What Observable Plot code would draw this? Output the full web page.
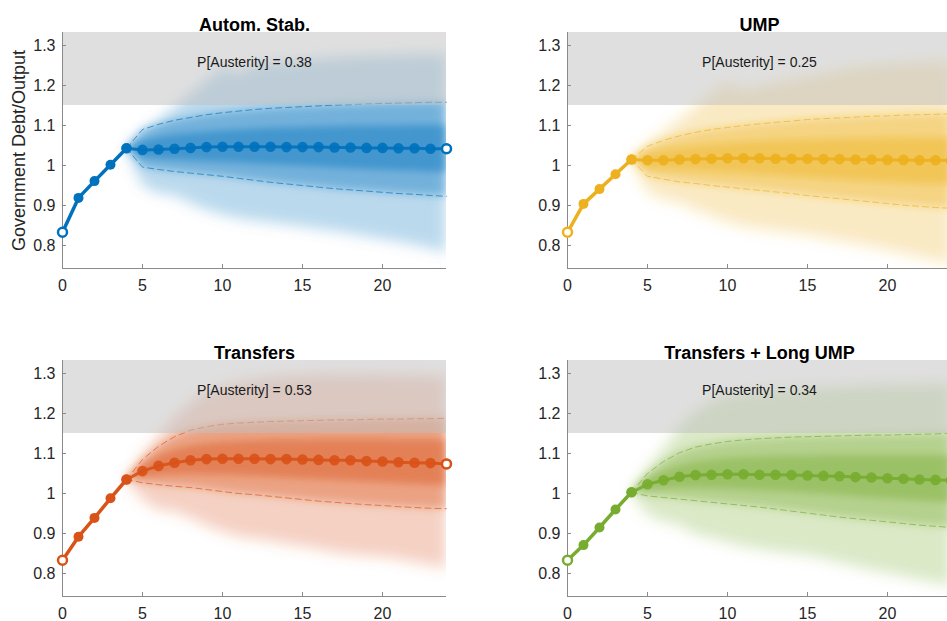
<!DOCTYPE html>
<html>
<head>
<meta charset="utf-8">
<script src="https://cdn.jsdelivr.net/npm/d3@7"></script>
<script src="https://cdn.jsdelivr.net/npm/@observablehq/plot@0.6"></script>
<style>
  html, body { margin: 0; padding: 0; background: #fff; }
  #chart { position: relative; width: 947px; height: 621px; overflow: hidden; background: #fff;
           font-family: "Liberation Sans", Arial, Helvetica, sans-serif; }
  #chart svg { position: absolute; overflow: visible; }
</style>
</head>
<body>
<div id="chart"></div>
<script>
// Horizon (years) and the forecast part of it
const periods    = [0, 1, 2, 3, 4, 5, 6, 7, 8, 9, 10, 11, 12, 13, 14, 15, 16, 17, 18, 19, 20, 21, 22, 23, 24];
const fanPeriods = [4, 5, 6, 7, 8, 9, 10, 11, 12, 13, 14, 15, 16, 17, 18, 19, 20, 21, 22, 23, 24];

const xTicks = [0, 5, 10, 15, 20];
const yTicks = [0.8, 0.9, 1, 1.1, 1.2, 1.3];
const xDomain = [0, 24];
const yDomain = [0.7425, 1.3325];
const austerityThreshold = 1.15;

const titles = ["Autom. Stab.", "UMP", "Transfers", "Transfers + Long UMP"];
const pAusterity = [0.38, 0.25, 0.53, 0.34];
const colors = ["#0072BD", "#EDB120", "#D95319", "#77AC30"];

// --- Automatic stabilisers ---
const autoMedian  = [0.833, 0.919, 0.961, 1.002, 1.043, 1.039, 1.040, 1.042, 1.044, 1.046, 1.047, 1.047, 1.047, 1.047, 1.046, 1.046, 1.046, 1.045, 1.045, 1.044, 1.044, 1.043, 1.043, 1.042, 1.042];
const autoOuterHi = [1.043, 1.077, 1.110, 1.144, 1.177, 1.210, 1.244, 1.229, 1.250, 1.255, 1.258, 1.262, 1.265, 1.268, 1.271, 1.273, 1.274, 1.275, 1.276, 1.277, 1.277];
const autoOuterLo = [1.043, 0.950, 0.929, 0.925, 0.905, 0.888, 0.876, 0.867, 0.861, 0.856, 0.851, 0.846, 0.840, 0.835, 0.829, 0.822, 0.815, 0.808, 0.801, 0.792, 0.781];
const autoDashHi  = [1.043, 1.090, 1.103, 1.113, 1.120, 1.127, 1.132, 1.136, 1.140, 1.143, 1.145, 1.147, 1.149, 1.151, 1.152, 1.154, 1.155, 1.156, 1.157, 1.158, 1.158];
const autoDashLo  = [1.043, 0.996, 0.990, 0.985, 0.981, 0.977, 0.973, 0.968, 0.963, 0.958, 0.954, 0.950, 0.946, 0.942, 0.939, 0.936, 0.933, 0.930, 0.928, 0.925, 0.923];
const autoInnerHi = [1.043, 1.062, 1.070, 1.076, 1.080, 1.084, 1.087, 1.089, 1.091, 1.093, 1.094, 1.095, 1.096, 1.097, 1.098, 1.098, 1.099, 1.099, 1.100, 1.100, 1.100];
const autoInnerLo = [1.043, 1.020, 1.016, 1.014, 1.012, 1.010, 1.008, 1.006, 1.004, 1.002, 1.000, 0.998, 0.996, 0.994, 0.992, 0.990, 0.989, 0.987, 0.986, 0.984, 0.983];

// --- Unconventional monetary policy ---
const umpMedian  = [0.833, 0.904, 0.941, 0.978, 1.015, 1.013, 1.013, 1.015, 1.016, 1.017, 1.018, 1.018, 1.018, 1.017, 1.017, 1.017, 1.016, 1.016, 1.015, 1.015, 1.014, 1.014, 1.013, 1.013, 1.012];
const umpOuterHi = [1.015, 1.050, 1.082, 1.113, 1.145, 1.178, 1.208, 1.188, 1.197, 1.205, 1.213, 1.220, 1.228, 1.236, 1.244, 1.248, 1.252, 1.254, 1.256, 1.257, 1.258];
const umpOuterLo = [1.015, 0.933, 0.914, 0.906, 0.888, 0.872, 0.858, 0.846, 0.840, 0.835, 0.830, 0.825, 0.818, 0.811, 0.804, 0.796, 0.788, 0.779, 0.770, 0.761, 0.752];
const umpDashHi  = [1.015, 1.048, 1.063, 1.074, 1.083, 1.090, 1.095, 1.100, 1.104, 1.108, 1.111, 1.115, 1.117, 1.119, 1.121, 1.123, 1.124, 1.126, 1.127, 1.128, 1.129];
const umpDashLo  = [1.015, 0.973, 0.966, 0.959, 0.955, 0.950, 0.946, 0.942, 0.938, 0.934, 0.930, 0.925, 0.921, 0.917, 0.913, 0.909, 0.905, 0.901, 0.898, 0.895, 0.893];
const umpInnerHi = [1.015, 1.030, 1.037, 1.043, 1.048, 1.052, 1.055, 1.058, 1.060, 1.062, 1.063, 1.064, 1.065, 1.066, 1.067, 1.067, 1.068, 1.068, 1.069, 1.069, 1.069];
const umpInnerLo = [1.015, 0.993, 0.990, 0.988, 0.986, 0.984, 0.982, 0.980, 0.977, 0.975, 0.972, 0.970, 0.967, 0.965, 0.962, 0.960, 0.958, 0.956, 0.954, 0.953, 0.952];

// --- Transfers ---
const trMedian  = [0.833, 0.892, 0.939, 0.988, 1.035, 1.056, 1.069, 1.077, 1.083, 1.086, 1.087, 1.087, 1.087, 1.086, 1.086, 1.085, 1.084, 1.083, 1.083, 1.081, 1.080, 1.078, 1.077, 1.076, 1.074];
const trOuterHi = [1.035, 1.090, 1.140, 1.188, 1.225, 1.252, 1.265, 1.276, 1.283, 1.288, 1.292, 1.295, 1.296, 1.297, 1.297, 1.297, 1.296, 1.295, 1.295, 1.294, 1.293];
const trOuterLo = [1.035, 0.985, 0.958, 0.955, 0.938, 0.920, 0.904, 0.891, 0.886, 0.880, 0.873, 0.867, 0.860, 0.852, 0.846, 0.843, 0.841, 0.835, 0.828, 0.820, 0.812];
const trDashHi  = [1.035, 1.085, 1.118, 1.142, 1.158, 1.167, 1.173, 1.176, 1.178, 1.180, 1.181, 1.182, 1.183, 1.184, 1.184, 1.185, 1.186, 1.186, 1.187, 1.187, 1.188];
const trDashLo  = [1.035, 1.027, 1.022, 1.018, 1.015, 1.010, 1.005, 1.000, 0.997, 0.993, 0.989, 0.985, 0.981, 0.978, 0.975, 0.972, 0.970, 0.967, 0.965, 0.963, 0.962];
const trInnerHi = [1.035, 1.070, 1.093, 1.108, 1.118, 1.124, 1.128, 1.130, 1.132, 1.133, 1.134, 1.134, 1.135, 1.135, 1.135, 1.135, 1.135, 1.134, 1.134, 1.134, 1.133];
const trInnerLo = [1.035, 1.042, 1.045, 1.047, 1.048, 1.047, 1.046, 1.045, 1.043, 1.041, 1.039, 1.037, 1.035, 1.033, 1.031, 1.029, 1.027, 1.025, 1.023, 1.021, 1.019];

// --- Transfers + long UMP ---
const tlMedian  = [0.833, 0.871, 0.915, 0.960, 1.003, 1.023, 1.033, 1.042, 1.046, 1.047, 1.048, 1.048, 1.047, 1.047, 1.046, 1.045, 1.044, 1.043, 1.041, 1.040, 1.038, 1.037, 1.035, 1.034, 1.033];
const tlOuterHi = [1.003, 1.060, 1.110, 1.165, 1.205, 1.230, 1.245, 1.249, 1.254, 1.258, 1.261, 1.263, 1.265, 1.267, 1.268, 1.270, 1.271, 1.271, 1.272, 1.272, 1.273];
const tlOuterLo = [1.003, 0.946, 0.929, 0.920, 0.897, 0.888, 0.876, 0.867, 0.860, 0.853, 0.849, 0.845, 0.836, 0.826, 0.817, 0.808, 0.800, 0.792, 0.784, 0.776, 0.767];
const tlDashHi  = [1.003, 1.050, 1.080, 1.102, 1.116, 1.124, 1.130, 1.134, 1.137, 1.139, 1.141, 1.142, 1.143, 1.144, 1.145, 1.146, 1.146, 1.147, 1.148, 1.149, 1.150];
const tlDashLo  = [1.003, 0.994, 0.990, 0.986, 0.982, 0.978, 0.974, 0.970, 0.966, 0.961, 0.956, 0.951, 0.946, 0.941, 0.937, 0.933, 0.929, 0.925, 0.921, 0.918, 0.915];
const tlInnerHi = [1.003, 1.037, 1.055, 1.069, 1.078, 1.084, 1.088, 1.090, 1.092, 1.093, 1.094, 1.094, 1.095, 1.095, 1.095, 1.095, 1.095, 1.095, 1.095, 1.095, 1.095];
const tlInnerLo = [1.003, 1.008, 1.011, 1.013, 1.013, 1.012, 1.011, 1.009, 1.007, 1.005, 1.003, 1.000, 0.998, 0.995, 0.992, 0.989, 0.986, 0.984, 0.981, 0.979, 0.977];

const scenarios = [
  {median: autoMedian, outerHi: autoOuterHi, outerLo: autoOuterLo, dashHi: autoDashHi, dashLo: autoDashLo, innerHi: autoInnerHi, innerLo: autoInnerLo},
  {median: umpMedian,  outerHi: umpOuterHi,  outerLo: umpOuterLo,  dashHi: umpDashHi,  dashLo: umpDashLo,  innerHi: umpInnerHi,  innerLo: umpInnerLo},
  {median: trMedian,   outerHi: trOuterHi,   outerLo: trOuterLo,   dashHi: trDashHi,   dashLo: trDashLo,   innerHi: trInnerHi,   innerLo: trInnerLo},
  {median: tlMedian,   outerHi: tlOuterHi,   outerLo: tlOuterLo,   dashHi: tlDashHi,   dashLo: tlDashLo,   innerHi: tlInnerHi,   innerLo: tlInnerLo}
].map((s, i) => ({...s, title: titles[i], p: pAusterity[i], color: colors[i]}));

// Panel geometry (2 x 2 grid; the right column runs past the page edge)
const W = 466, H = 300, ML = 62, MR = 20, MT = 32, MB = 32;
const panelOffsets = [[0, 0], [505, 0], [0, 328], [505, 328]];
const axisColor = "#8a8a8a";
const labelColor = "#262626";
const font = "Liberation Sans, Arial, Helvetica, sans-serif";
// blur radius for the outer, middle and inner bands of the fan
const bandSoftness = [7, 4.5, 3.5];

function drawPanel(s, idx) {
  const plotW = W - ML - MR, plotH = H - MT - MB;
  const hist = periods.slice(0, 5).map((t) => ({t, v: s.median[t]}));
  const proj = fanPeriods.map((t) => ({t, v: s.median[t]}));
  const ends = [hist[0], proj[proj.length - 1]];
  const fan = fanPeriods.map((t, i) => ({
    t,
    oLo: s.outerLo[i], oHi: s.outerHi[i],
    dLo: s.dashLo[i],  dHi: s.dashHi[i],
    iLo: s.innerLo[i], iHi: s.innerHi[i]
  }));

  const marks = [
    // fan of simulated paths: nested quantile bands (the only area marks)
    Plot.areaY(fan, {x: "t", y1: "oLo", y2: "oHi", fill: s.color, fillOpacity: 0.27}),
    Plot.areaY(fan, {x: "t", y1: "dLo", y2: "dHi", fill: s.color, fillOpacity: 0.38}),
    Plot.areaY(fan, {x: "t", y1: "iLo", y2: "iHi", fill: s.color, fillOpacity: 0.42}),
    Plot.line(fan, {x: "t", y: "dHi", stroke: s.color, strokeWidth: 1, strokeOpacity: 0.65, strokeDasharray: "6,4"}),
    Plot.line(fan, {x: "t", y: "dLo", stroke: s.color, strokeWidth: 1, strokeOpacity: 0.65, strokeDasharray: "6,4"}),
    // austerity region
    Plot.rect([{lo: austerityThreshold, hi: yDomain[1]}], {y1: "lo", y2: "hi", fill: "#bfbfbf", fillOpacity: 0.5}),
    // axes (ticks point inward)
    Plot.ruleX([xDomain[0]], {stroke: axisColor}),
    Plot.ruleY([yDomain[0]], {stroke: axisColor}),
    Plot.tickY(yTicks, {y: (d) => d, stroke: axisColor, insetRight: plotW - 4}),
    Plot.tickX(xTicks, {x: (d) => d, stroke: axisColor, insetTop: plotH - 4}),
    Plot.axisY({ticks: yTicks, tickSize: 0, tickPadding: 7, tickFormat: (d) => String(d), fontSize: 16, fill: labelColor, label: null}),
    Plot.axisX({ticks: xTicks, tickSize: 0, tickPadding: 11, fontSize: 16, fill: labelColor, label: null}),
    // median path: projection then history
    Plot.line(proj, {x: "t", y: "v", stroke: s.color, strokeWidth: 3, strokeOpacity: 0.92}),
    Plot.dot(proj, {x: "t", y: "v", r: 5.3, fill: s.color, fillOpacity: 0.92}),
    Plot.line(hist, {x: "t", y: "v", stroke: s.color, strokeWidth: 3.5}),
    Plot.dot(hist, {x: "t", y: "v", r: 5, fill: s.color}),
    Plot.dot(ends, {x: "t", y: "v", r: 4.5, fill: "white", stroke: s.color, strokeWidth: 2.5}),
    // annotations
    Plot.text([`P[Austerity] = ${s.p.toFixed(2)}`], {frameAnchor: "top", dy: 25, fontSize: 14, fill: "#1a1a1a"}),
    Plot.text([s.title], {frameAnchor: "top", dy: -14, fontSize: 18, fontWeight: "bold", fill: "#000"})
  ];
  if (idx === 0) {
    marks.push(Plot.text(["Government Debt/Output"], {
      frameAnchor: "left", textAnchor: "middle", dx: -43, rotate: -90, fontSize: 18, fill: labelColor
    }));
  }

  const svgNode = Plot.plot({
    width: W, height: H,
    marginLeft: ML, marginRight: MR, marginTop: MT, marginBottom: MB,
    x: {domain: xDomain},
    y: {domain: yDomain},
    style: {fontFamily: font, background: "transparent", overflow: "visible"},
    marks
  });

  // soften the stacked bands into a continuous fan, kept inside the frame
  const svg = d3.select(svgNode.tagName.toLowerCase() === "svg" ? svgNode : svgNode.querySelector("svg"));
  const defs = svg.insert("defs", ":first-child");
  bandSoftness.forEach((sd, b) => {
    defs.append("filter").attr("id", `soft${idx}-${b}`)
      .attr("filterUnits", "userSpaceOnUse")
      .attr("x", 0).attr("y", 0).attr("width", W).attr("height", H)
      .append("feGaussianBlur").attr("stdDeviation", sd);
  });
  defs.append("clipPath").attr("id", `frame${idx}`)
    .append("rect").attr("x", ML).attr("y", MT).attr("width", plotW).attr("height", plotH);
  svg.selectAll('g[aria-label="area"]').each(function (_, b) {
    d3.select(this)
      .attr("filter", `url(#soft${idx}-${Math.min(b, bandSoftness.length - 1)})`)
      .attr("clip-path", `url(#frame${idx})`);
  });

  svgNode.style.left = panelOffsets[idx][0] + "px";
  svgNode.style.top = panelOffsets[idx][1] + "px";
  return svgNode;
}

const chart = document.getElementById("chart");
scenarios.forEach((s, i) => chart.appendChild(drawPanel(s, i)));
</script>
</body>
</html>
